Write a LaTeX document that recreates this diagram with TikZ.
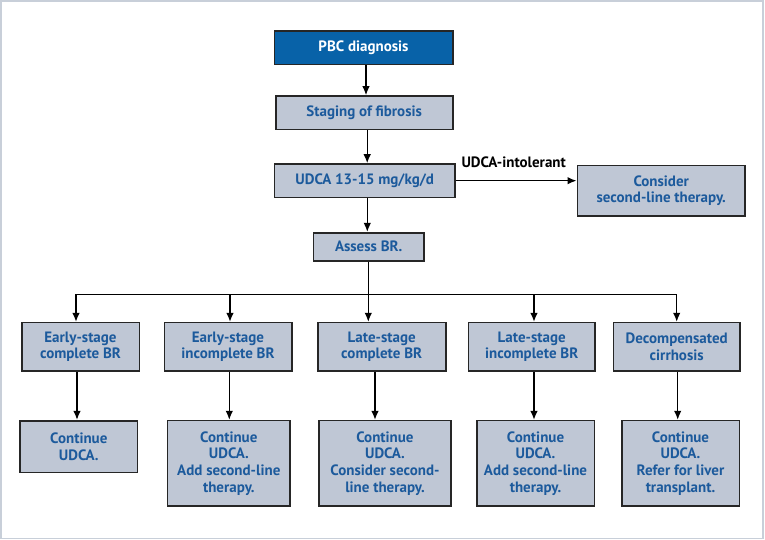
\documentclass[tikz,border=0pt]{standalone}
\usepackage{fontspec}
\setmainfont{PT Sans}
\usetikzlibrary{arrows.meta}
\definecolor{boxfill}{HTML}{BFC7D5}
\definecolor{txtblue}{HTML}{1C5A9C}
\definecolor{topfill}{HTML}{0862A8}
\definecolor{framec}{HTML}{C8CFD9}
\begin{document}
\begin{tikzpicture}[x=1pt,y=-1pt,
  box/.style={draw=black!85, line width=1.6pt, fill=boxfill, text=txtblue,
    font=\fontsize{15}{16.7}\selectfont\bfseries, align=center, inner sep=0pt},
  arr/.style={line width=1.4pt, -{Latex[length=9pt,width=7.5pt]}},
  ln/.style={line width=1.4pt}]
\useasboundingbox (0,0) rectangle (765,540);
\draw[framec, line width=1.6pt] (0.8,0.8) rectangle (763.2,538.6);

\node[box, fill=topfill, text=white, minimum width=178.4, minimum height=33.3] (pbc) at (363.5,47.7) {PBC diagnosis};
\node[box, minimum width=177, minimum height=33.3] (stag) at (364.2,112.7) {Staging of fibrosis};
\node[box, minimum width=180.7, minimum height=33.3] (udca) at (364.7,180.7) {UDCA 13-15 mg/kg/d};
\node[box, minimum width=167.7, minimum height=50.3] (cons) at (661.2,190.8) {Consider\\second-line therapy.};
\node[box, minimum width=110.7, minimum height=28] (assess) at (368.7,246.7) {Assess BR.};

\node[font=\fontsize{15}{16}\selectfont\bfseries, inner sep=0pt] (lab) at (513.7,162.3) {UDCA-intolerant};

\foreach \n/\x/\w/\t in {r2a/80.5/117.6/{Early-stage\\complete BR},
                         r2b/228/127.4/{Early-stage\\incomplete BR},
                         r2c/381.7/128/{Late-stage\\complete BR},
                         r2d/531.7/126.7/{Late-stage\\incomplete BR},
                         r2e/676.7/126.7/{Decompensated\\cirrhosis}}
  \node[box, minimum width=\w, minimum height=48.3] (\n) at (\x,346.8) {\t};

\node[box, minimum width=117.7, minimum height=51.6] (r3a) at (78.8,446.5) {Continue\\UDCA.};
\node[box, minimum width=122.3, minimum height=85.3] (r3b) at (228.8,463.3) {Continue\\UDCA.\\Add second-line\\therapy.};
\node[box, minimum width=132, minimum height=85.3] (r3c) at (385,463.3) {Continue\\UDCA.\\Consider second-\\line therapy.};
\node[box, minimum width=117.6, minimum height=85.3] (r3d) at (535.5,463.3) {Continue\\UDCA.\\Add second-line\\therapy.};
\node[box, minimum width=117.6, minimum height=85.3] (r3e) at (680.5,463.3) {Continue\\UDCA.\\Refer for liver\\transplant.};

% main spine
\draw[arr] ([xshift=2.5]pbc.south) -- ([xshift=2.5]pbc.south |- stag.north);
\draw[arr] ([xshift=3]stag.south) -- ([xshift=3]stag.south |- udca.north);
\draw[arr] ([xshift=2.6]udca.south) -- ([xshift=2.6]udca.south |- assess.north);
\draw[arr] (udca.east) -- (udca.east -| cons.west);

% branch
\coordinate (b1) at (76,294.3);
\coordinate (b2) at (230,294.3);
\coordinate (b3) at (368.3,294.3);
\coordinate (b4) at (534,294.3);
\coordinate (b5) at (676.7,294.3);
\draw[ln] (b3 |- assess.south) -- (b3);
\draw[ln] ([xshift=-0.7pt]b1) -- ([xshift=0.7pt]b5);
\draw[arr] (b1) -- (b1 |- r2a.north);
\draw[arr] (b2) -- (b2 |- r2b.north);
\draw[arr] (b3) -- (b3 |- r2c.north);
\draw[arr] (b4) -- (b4 |- r2d.north);
\draw[arr] (b5) -- (b5 |- r2e.north);

% row 2 -> row 3
\draw[arr] ([xshift=-1.8]r3a.north |- r2a.south) -- ([xshift=-1.8]r3a.north);
\draw[arr] ([xshift=0.5]r3b.north |- r2b.south) -- ([xshift=0.5]r3b.north);
\draw[arr] ([xshift=-10]r3c.north |- r2c.south) -- ([xshift=-10]r3c.north);
\draw[arr] ([xshift=-1.5]r3d.north |- r2d.south) -- ([xshift=-1.5]r3d.north);
\draw[arr] ([xshift=-2.8]r3e.north |- r2e.south) -- ([xshift=-2.8]r3e.north);
\end{tikzpicture}
\end{document}
